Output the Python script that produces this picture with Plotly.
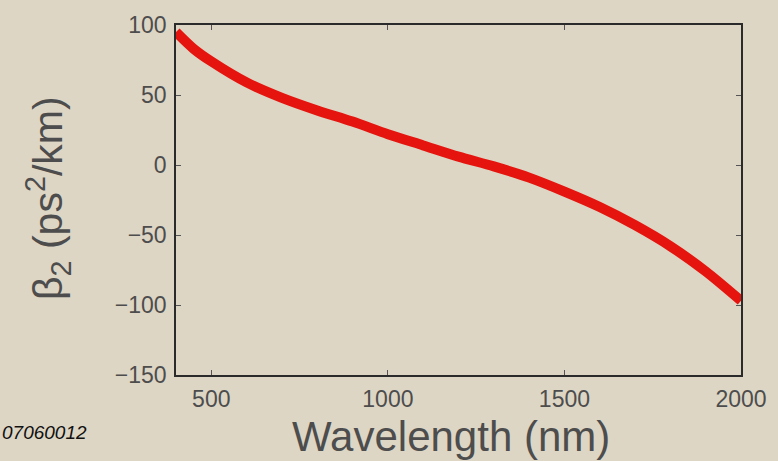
import plotly.graph_objects as go

wavelength_nm = [400, 450, 500, 600, 700, 800, 900, 1000, 1100, 1200, 1300, 1400, 1500, 1600, 1700, 1800, 1900, 2000]
beta2_ps2_per_km = [95, 83, 74, 59, 48, 39, 31, 22, 14, 6, -1, -9, -19, -30, -43, -58, -76, -97]

x_ticks = [500, 1000, 1500, 2000]
y_ticks = [-150, -100, -50, 0, 50, 100]

bg = "#ddd6c5"
txt = "#4d4d4d"
FONT = "Liberation Sans, Arial, sans-serif"

W, H = 778, 461
ML, MR, MT, MB = 176, 37, 25, 86

fig = go.Figure()
fig.add_trace(go.Scatter(
    x=wavelength_nm, y=beta2_ps2_per_km, mode="lines",
    line=dict(color="#e5140e", width=10, shape="spline", smoothing=0.8),
    showlegend=False, hoverinfo="skip",
))

axis_common = dict(
    showgrid=False, zeroline=False, showline=True, linecolor="#2b2b2b", linewidth=1.5,
    mirror="ticks", ticks="inside", ticklen=5, tickwidth=1, tickcolor="#555555",
    tickfont=dict(family=FONT, size=23, color=txt),
)

pw = W - ML - MR
ph = H - MT - MB
def px_to_paper(px, py):
    return (px - ML) / pw, (H - MB - py) / ph

xt, yt = px_to_paper(451, 436)
xy, yy = px_to_paper(48, 198)
xw, yw = px_to_paper(0, 432)

fig.update_layout(
    width=W, height=H,
    margin=dict(l=ML, r=MR, t=MT, b=MB),
    paper_bgcolor=bg, plot_bgcolor=bg,
    xaxis=dict(range=[400, 2000], tickvals=x_ticks, ticktext=[str(v) for v in x_ticks],
               ticklabelstandoff=3, **axis_common),
    yaxis=dict(range=[-150, 100], tickvals=y_ticks,
               ticktext=[("\u2212" + str(-v)) if v < 0 else str(v) for v in y_ticks],
               ticklabelstandoff=3, **axis_common),
    annotations=[
        dict(text="Wavelength (nm)", x=xt, y=yt, xref="paper", yref="paper", showarrow=False,
             font=dict(family=FONT, size=42, color=txt), xanchor="center", yanchor="middle"),
        dict(text="β<sub>2</sub> (ps<sup>2</sup>/km)", x=xy, y=yy, xref="paper", yref="paper",
             showarrow=False, textangle=-90, font=dict(family=FONT, size=41, color=txt),
             xanchor="center", yanchor="middle"),
        dict(text="<i>07060012</i>", x=xw, y=yw, xref="paper", yref="paper", showarrow=False,
             font=dict(family=FONT, size=19, color="#111111"), xanchor="left", yanchor="middle"),
    ],
)

fig.write_html("out.html", config={"displayModeBar": False},
               post_script="document.body.style.margin='0';")
